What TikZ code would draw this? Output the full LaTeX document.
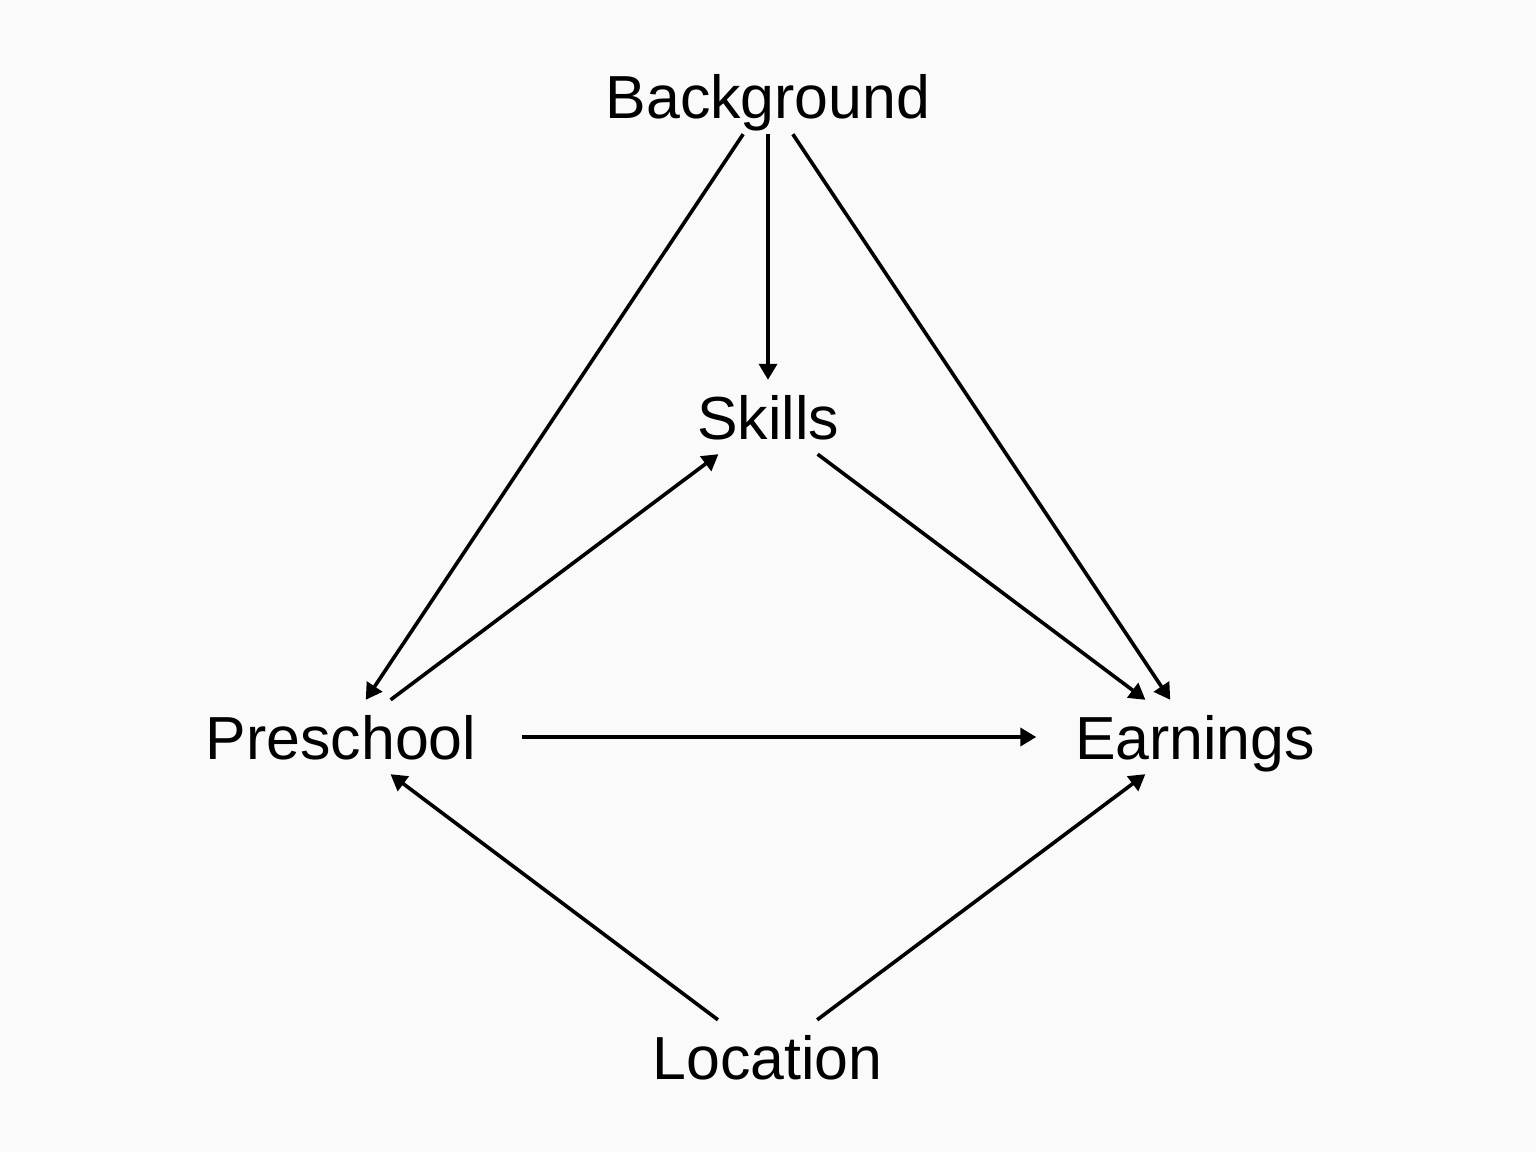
\documentclass[tikz,border=0pt]{standalone}
\usepackage{fontspec}
\setmainfont{Liberation Sans}
\usetikzlibrary{arrows.meta}
\definecolor{bgc}{HTML}{FAFAFA}
\begin{document}
\begin{tikzpicture}[
  lbl/.style={inner xsep=0pt, inner ysep=0pt, text height=0.44cm, text depth=0pt,
    minimum height=0.73cm, font=\fontsize{17.3pt}{20pt}\selectfont},
  edge/.style={line width=0.036cm, -{Triangle[length=0.16cm,width=0.18cm]}}
]
\fill[bgc] (0,0) rectangle (15.36,-11.52);
\useasboundingbox (0,0) rectangle (15.36,-11.52);
\node[lbl, minimum width=4cm] (B) at (7.68,-0.97) {Background};
\node[lbl, minimum width=2.4cm] (S) at (7.68,-4.17) {Skills};
\node[lbl, minimum width=3.6cm] (P) at (3.41,-7.37) {Preschool};
\node[lbl, minimum width=3.16cm] (E) at (11.95,-7.37) {Earnings};
\node[lbl, minimum width=3.2cm] (L) at (7.675,-10.57) {Location};
\draw[edge] (B) -- (P);
\draw[edge] (B) -- (S);
\draw[edge] (B) -- (E);
\draw[edge] (S) -- (E);
\draw[edge] (P) -- (S);
\draw[edge] (P) -- (E);
\draw[edge] (L) -- (P);
\draw[edge] (L) -- (E);
\end{tikzpicture}
\end{document}
